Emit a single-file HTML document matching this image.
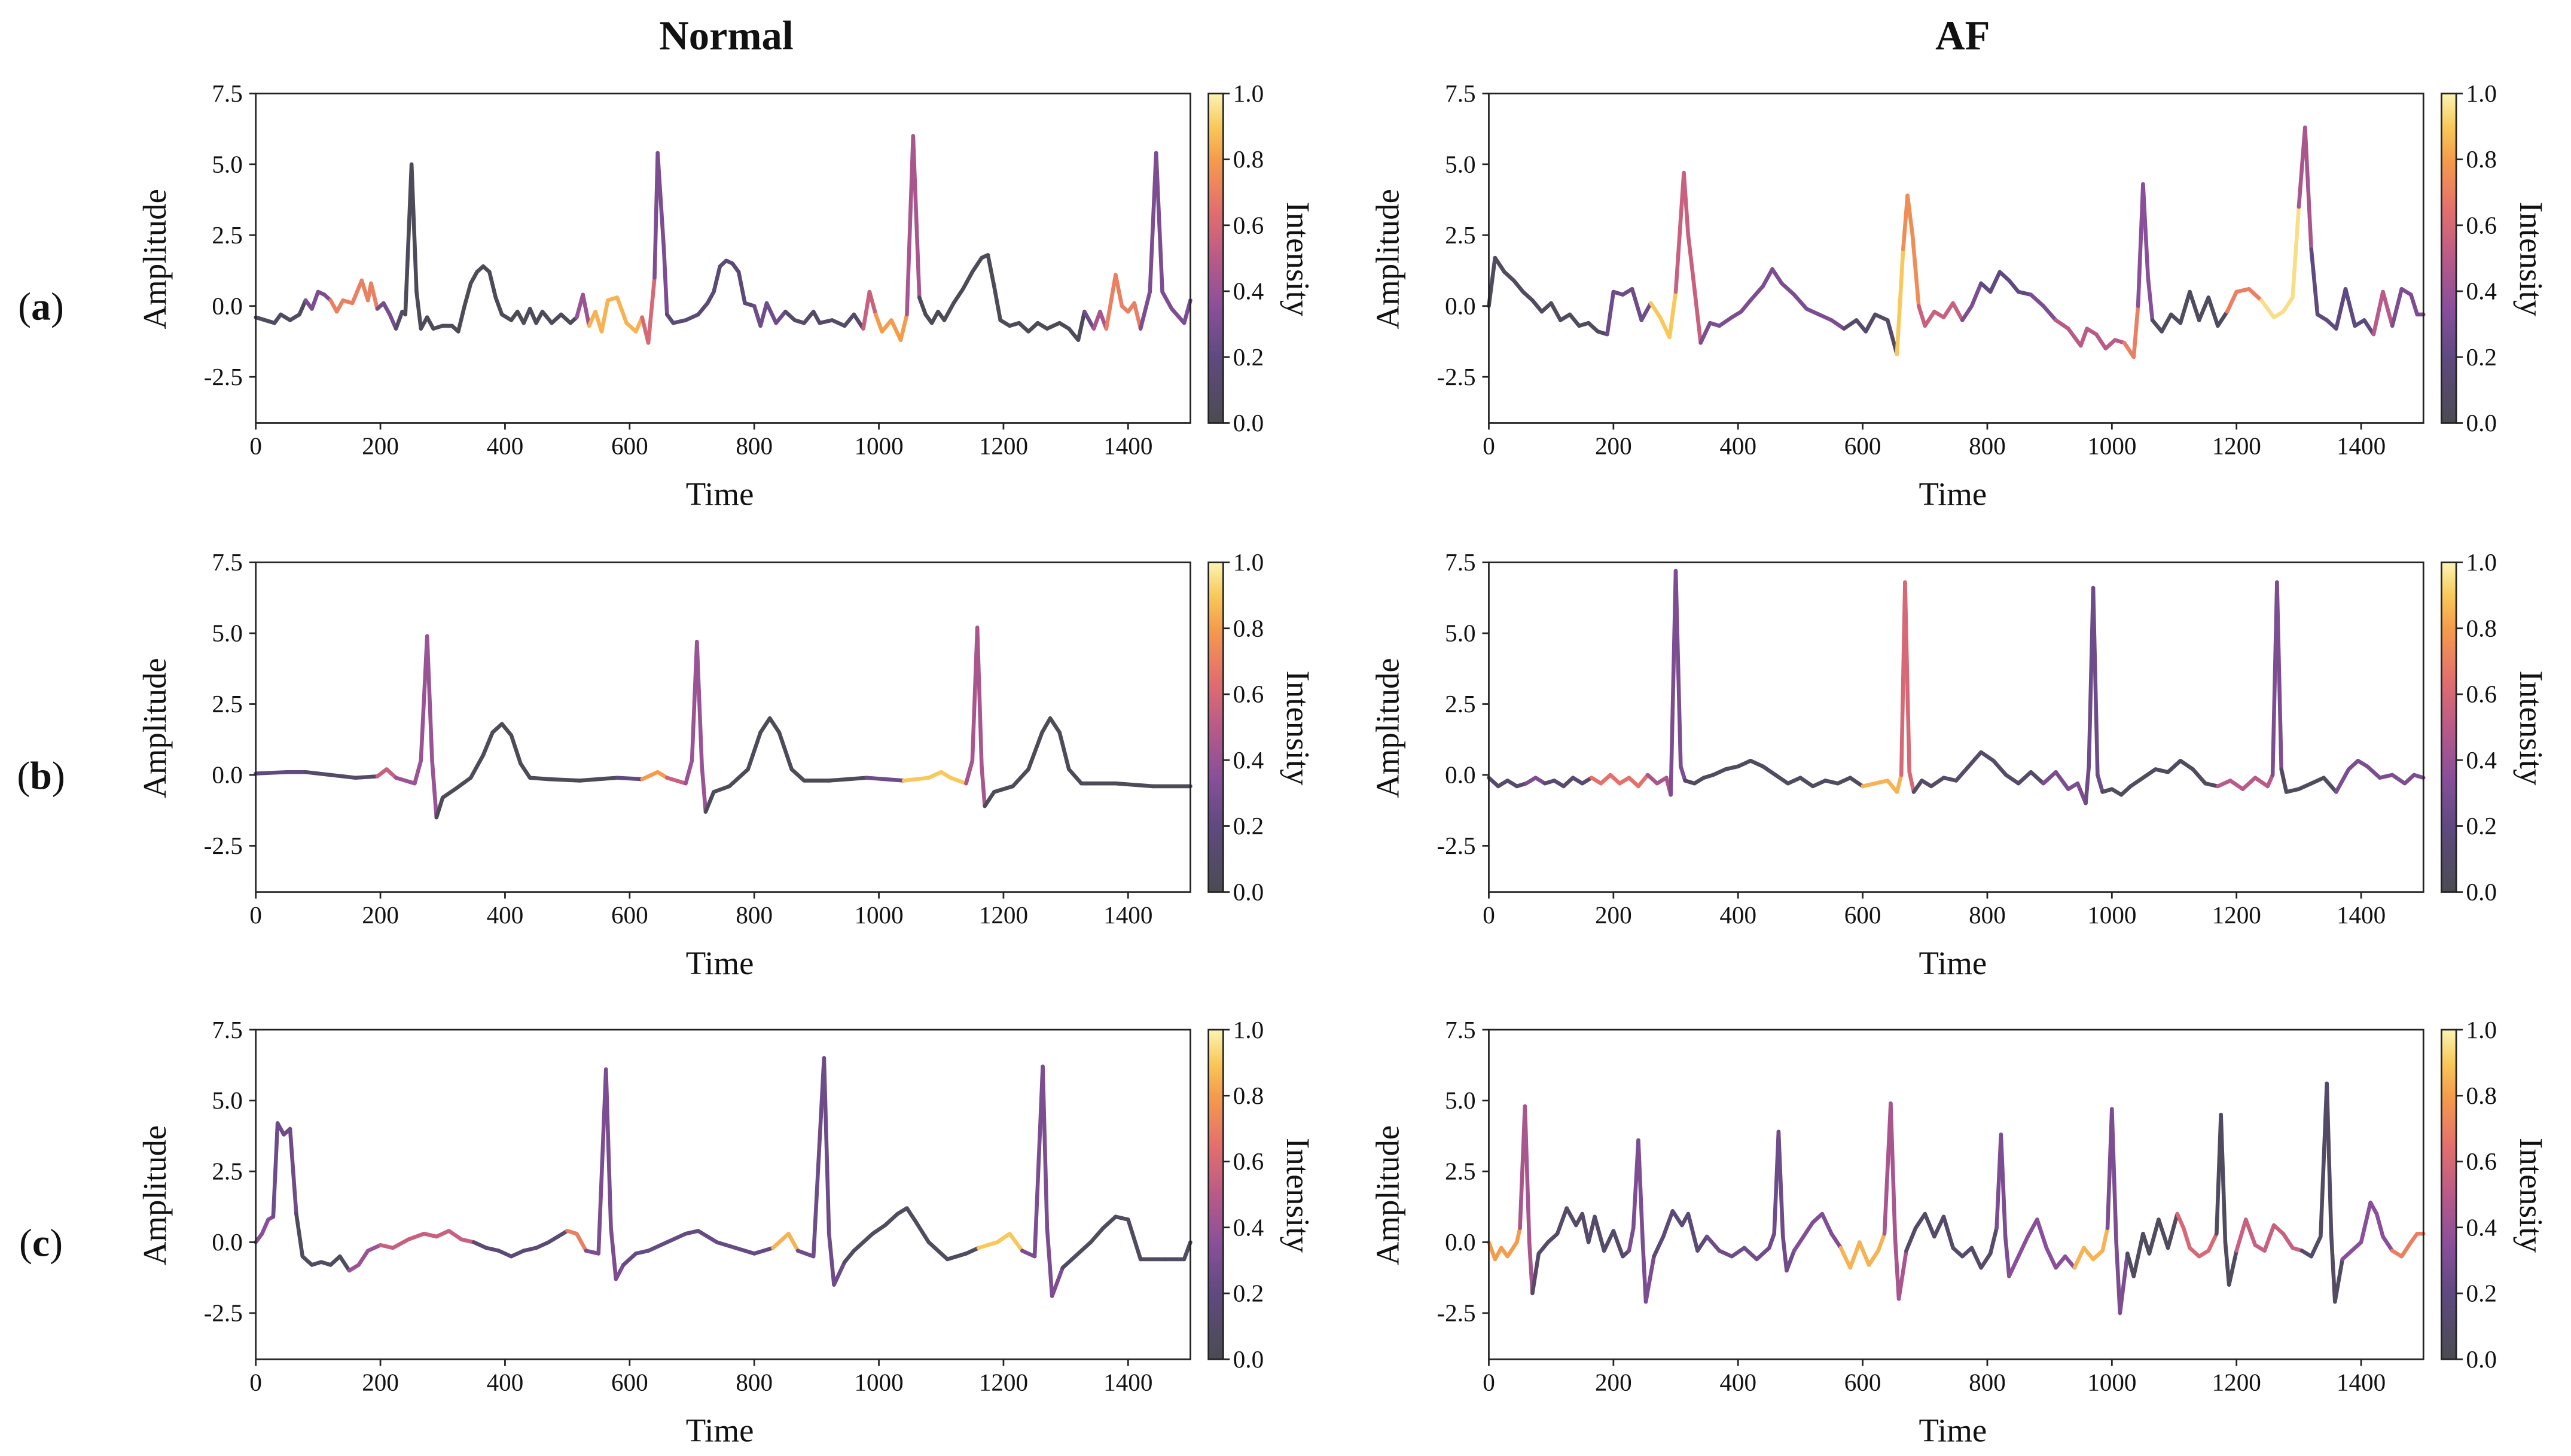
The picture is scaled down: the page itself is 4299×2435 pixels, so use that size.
<!DOCTYPE html>
<html><head><meta charset="utf-8">
<style>
html,body{margin:0;padding:0;background:#fff;}
svg{display:block;}
text{font-family:"Liberation Serif",serif;fill:#111;}
</style></head>
<body>
<svg id="fig" width="4299" height="2435" viewBox="0 0 1568 888" preserveAspectRatio="none" xmlns="http://www.w3.org/2000/svg">
<defs>
<linearGradient id="cbgrad" x1="0" y1="1" x2="0" y2="0">
<stop offset="0" stop-color="#4b4b52"/>
<stop offset="0.2" stop-color="#5f4a80"/>
<stop offset="0.35" stop-color="#8a4f9a"/>
<stop offset="0.5" stop-color="#b95a88"/>
<stop offset="0.65" stop-color="#e4706c"/>
<stop offset="0.8" stop-color="#f59c4c"/>
<stop offset="0.9" stop-color="#f8c95a"/>
<stop offset="1" stop-color="#fbf4b4"/>
</linearGradient>
</defs>
<text x="443" y="30" font-size="25" font-weight="bold" text-anchor="middle">Normal</text>
<text x="1197" y="30" font-size="25" font-weight="bold" text-anchor="middle">AF</text>
<text x="25" y="195" font-size="24" text-anchor="middle">(<tspan font-weight="bold">a</tspan>)</text>
<text x="25" y="481" font-size="24" text-anchor="middle">(<tspan font-weight="bold">b</tspan>)</text>
<text x="25" y="766" font-size="24" text-anchor="middle">(<tspan font-weight="bold">c</tspan>)</text>
</svg>
<script>
// ---- data ----
const xTicks = [0,200,400,600,800,1000,1200,1400];
const yTicks = [7.5,5.0,2.5,0.0,-2.5];
const cbTicks = [0.0,0.2,0.4,0.6,0.8,1.0];

const naT = [0,15,30,40,55,70,80,90,100,110,120,130,140,155,170,180,185,195,205,215,225,235,240,250,258,265,275,285,300,315,325,335,345,355,365,375,385,395,410,420,430,440,450,460,475,490,505,515,525,535,545,555,565,580,595,610,620,630,640,645,655,660,670,690,710,725,735,745,755,765,775,785,800,810,820,835,850,865,880,895,905,925,945,960,975,985,995,1005,1020,1035,1045,1055,1065,1075,1085,1095,1105,1120,1135,1150,1165,1175,1185,1195,1210,1225,1240,1255,1270,1290,1305,1320,1330,1345,1355,1365,1380,1390,1400,1410,1420,1435,1445,1455,1470,1490,1500];
const naV = [-0.4,-0.5,-0.6,-0.3,-0.5,-0.3,0.2,-0.1,0.5,0.4,0.2,-0.2,0.2,0.1,0.9,0.2,0.8,-0.1,0.1,-0.3,-0.8,-0.2,-0.3,5.0,0.5,-0.8,-0.4,-0.8,-0.7,-0.7,-0.9,0.0,0.8,1.2,1.4,1.2,0.3,-0.3,-0.5,-0.2,-0.6,-0.1,-0.6,-0.2,-0.6,-0.3,-0.6,-0.4,0.4,-0.7,-0.2,-0.9,0.2,0.3,-0.6,-0.9,-0.4,-1.3,1.0,5.4,2.0,-0.3,-0.6,-0.5,-0.3,0.1,0.5,1.4,1.6,1.5,1.2,0.1,0.0,-0.7,0.1,-0.6,-0.2,-0.5,-0.6,-0.2,-0.6,-0.5,-0.7,-0.3,-0.8,0.5,-0.3,-0.9,-0.5,-1.2,-0.3,6.0,0.3,-0.3,-0.6,-0.2,-0.5,0.1,0.6,1.2,1.7,1.8,0.7,-0.5,-0.7,-0.6,-0.9,-0.6,-0.8,-0.6,-0.8,-1.2,-0.2,-0.8,-0.2,-0.8,1.1,0.0,-0.2,0.1,-0.8,0.5,5.4,0.5,-0.1,-0.6,0.2];
const naIT = [0,80,125,195,222,245,520,535,625,640,660,800,845,980,992,1045,1062,1330,1350,1362,1418];
const naIV = [0.05,0.3,0.7,0.28,0.1,0.02,0.4,0.85,0.6,0.3,0.15,0.25,0.1,0.55,0.8,0.45,0.03,0.25,0.45,0.7,0.3];

const nbT = [0,50,80,120,160,195,210,225,255,265,275,283,290,300,320,345,365,380,395,410,425,440,470,520,580,620,645,660,690,700,708,716,722,735,760,790,810,825,840,860,880,920,980,1040,1080,1100,1115,1140,1150,1158,1165,1170,1185,1215,1240,1262,1275,1290,1305,1325,1380,1440,1500];
const nbV = [0.05,0.1,0.1,0.0,-0.1,-0.05,0.2,-0.1,-0.3,0.5,4.9,0.5,-1.5,-0.8,-0.5,-0.1,0.7,1.5,1.8,1.4,0.4,-0.1,-0.15,-0.2,-0.1,-0.15,0.1,-0.1,-0.3,0.5,4.7,0.3,-1.3,-0.6,-0.4,0.2,1.5,2.0,1.5,0.2,-0.2,-0.2,-0.1,-0.2,-0.1,0.1,-0.1,-0.3,0.5,5.2,0.3,-1.1,-0.6,-0.4,0.2,1.5,2.0,1.5,0.2,-0.3,-0.3,-0.4,-0.4];
const nbIT = [0,100,190,240,288,560,620,660,690,720,960,1060,1130,1168];
const nbIV = [0.2,0.1,0.55,0.4,0.03,0.2,0.8,0.55,0.4,0.03,0.25,0.9,0.45,0.03];

const ncT = [0,10,20,28,35,45,55,65,75,90,105,120,135,150,165,180,200,220,245,270,290,310,330,350,370,390,410,430,450,470,500,515,530,550,562,570,578,590,610,630,660,690,710,740,770,800,830,855,870,895,912,920,928,945,960,990,1010,1030,1045,1060,1080,1110,1140,1160,1190,1210,1230,1250,1263,1270,1278,1295,1315,1340,1360,1380,1400,1420,1460,1490,1500];
const ncV = [0.0,0.3,0.8,0.9,4.2,3.8,4.0,1.0,-0.5,-0.8,-0.7,-0.8,-0.5,-1.0,-0.8,-0.3,-0.1,-0.2,0.1,0.3,0.2,0.4,0.1,0.0,-0.2,-0.3,-0.5,-0.3,-0.2,0.0,0.4,0.3,-0.3,-0.4,6.1,0.5,-1.3,-0.8,-0.4,-0.3,0.0,0.3,0.4,0.0,-0.2,-0.4,-0.2,0.3,-0.3,-0.5,6.5,0.3,-1.5,-0.7,-0.3,0.3,0.6,1.0,1.2,0.7,0.0,-0.6,-0.4,-0.2,0.0,0.3,-0.3,-0.5,6.2,0.5,-1.9,-0.9,-0.5,0.0,0.5,0.9,0.8,-0.6,-0.6,-0.6,0.0];
const ncIT = [0,30,65,145,195,360,490,540,585,820,880,940,1160,1240,1290];
const ncIV = [0.35,0.25,0.05,0.4,0.55,0.15,0.7,0.3,0.22,0.85,0.25,0.05,0.9,0.3,0.05];

const faT = [0,10,25,40,55,70,85,100,115,130,145,160,175,190,200,215,230,245,260,275,290,300,313,320,328,340,355,370,390,405,420,440,455,470,490,510,530,550,570,590,605,620,640,655,665,672,680,690,700,715,730,745,760,775,790,805,820,835,850,870,890,910,930,950,960,975,990,1005,1020,1035,1042,1050,1058,1065,1080,1095,1110,1125,1140,1155,1170,1185,1200,1220,1240,1260,1275,1290,1300,1310,1320,1330,1345,1360,1375,1390,1405,1420,1435,1450,1465,1480,1490,1500];
const faV = [0.0,1.7,1.2,0.9,0.5,0.2,-0.2,0.1,-0.5,-0.3,-0.7,-0.6,-0.9,-1.0,0.5,0.4,0.6,-0.5,0.1,-0.4,-1.1,0.5,4.7,2.5,1.0,-1.3,-0.6,-0.7,-0.4,-0.2,0.2,0.7,1.3,0.8,0.4,-0.1,-0.3,-0.5,-0.8,-0.5,-0.9,-0.3,-0.5,-1.7,2.0,3.9,2.5,0.0,-0.7,-0.2,-0.4,0.1,-0.5,0.0,0.8,0.5,1.2,0.9,0.5,0.4,0.0,-0.5,-0.8,-1.4,-0.8,-1.0,-1.5,-1.2,-1.3,-1.8,0.0,4.3,1.0,-0.5,-0.9,-0.3,-0.6,0.5,-0.5,0.3,-0.7,-0.2,0.5,0.6,0.2,-0.4,-0.2,0.3,3.5,6.3,2.0,-0.3,-0.5,-0.8,0.6,-0.7,-0.5,-1.0,0.5,-0.7,0.6,0.4,-0.3,-0.3];
const faIT = [0,195,255,296,335,580,650,662,688,755,785,865,905,1015,1040,1062,1180,1232,1296,1325,1415,1455];
const faIV = [0.05,0.25,0.9,0.55,0.3,0.1,0.9,0.75,0.55,0.3,0.2,0.3,0.5,0.7,0.35,0.05,0.7,0.95,0.45,0.2,0.5,0.3];

const fbT = [0,15,30,45,60,75,90,105,120,135,150,165,180,195,210,225,240,255,270,285,292,300,308,315,330,345,360,380,400,420,440,460,480,500,520,540,560,580,600,620,640,655,662,668,675,682,695,710,730,750,770,790,810,830,850,870,890,910,930,945,958,963,970,977,985,1000,1015,1030,1050,1070,1090,1110,1130,1150,1170,1190,1210,1230,1250,1258,1265,1272,1280,1300,1320,1340,1360,1380,1395,1410,1430,1450,1470,1485,1500];
const fbV = [-0.1,-0.4,-0.2,-0.4,-0.3,-0.1,-0.3,-0.2,-0.4,-0.1,-0.3,-0.1,-0.3,0.0,-0.3,-0.1,-0.4,0.0,-0.3,-0.1,-0.7,7.2,0.3,-0.2,-0.3,-0.1,0.0,0.2,0.3,0.5,0.3,0.0,-0.3,-0.1,-0.4,-0.2,-0.3,-0.1,-0.4,-0.3,-0.2,-0.6,0.0,6.8,0.1,-0.6,-0.2,-0.4,-0.1,-0.2,0.3,0.8,0.5,0.0,-0.3,0.1,-0.3,0.1,-0.5,-0.3,-1.0,0.3,6.6,0.0,-0.6,-0.5,-0.7,-0.4,-0.1,0.2,0.1,0.5,0.2,-0.3,-0.4,-0.2,-0.5,-0.1,-0.4,0.0,6.8,0.2,-0.6,-0.5,-0.3,-0.1,-0.6,0.2,0.5,0.3,-0.1,0.0,-0.3,0.0,-0.1];
const fbIT = [0,55,95,170,262,290,320,595,660,680,900,955,990,1165,1255,1276,1370];
const fbIV = [0.1,0.3,0.12,0.65,0.45,0.3,0.05,0.85,0.6,0.1,0.3,0.25,0.05,0.5,0.3,0.05,0.3];

const fcT = [0,10,20,30,45,50,58,65,70,80,95,110,125,140,150,160,170,185,200,215,225,232,240,247,252,265,280,295,310,320,335,350,370,390,410,430,450,458,465,472,478,490,505,520,535,550,565,580,595,610,625,635,645,652,658,670,685,700,715,730,745,760,775,790,805,815,822,829,835,850,865,880,895,910,925,940,955,970,985,993,1000,1007,1013,1025,1035,1050,1060,1075,1090,1105,1115,1125,1140,1155,1168,1175,1182,1188,1200,1215,1230,1245,1260,1275,1290,1305,1320,1335,1345,1352,1358,1370,1385,1400,1415,1425,1435,1450,1465,1480,1490,1500];
const fcV = [0.0,-0.6,-0.2,-0.5,0.0,0.5,4.8,0.0,-1.8,-0.4,0.0,0.3,1.2,0.6,1.0,0.0,0.9,-0.3,0.4,-0.5,-0.3,0.5,3.6,0.0,-2.1,-0.5,0.2,1.1,0.6,1.0,-0.3,0.2,-0.3,-0.5,-0.2,-0.6,-0.2,0.3,3.9,0.2,-1.0,-0.3,0.2,0.7,1.0,0.3,-0.2,-0.9,0.0,-0.8,-0.3,0.3,4.9,0.2,-2.0,-0.3,0.5,1.0,0.2,0.9,-0.2,-0.5,-0.2,-0.9,-0.4,0.5,3.8,0.2,-1.2,-0.5,0.2,0.8,-0.2,-0.9,-0.5,-0.9,-0.2,-0.6,-0.3,0.5,4.7,0.0,-2.5,-0.4,-1.2,0.3,-0.4,0.8,-0.2,1.0,0.5,-0.2,-0.5,-0.3,0.3,4.5,0.0,-1.5,-0.3,0.8,-0.1,-0.3,0.6,0.3,-0.2,-0.3,-0.5,0.2,5.6,0.3,-2.1,-0.6,-0.3,0.0,1.4,1.0,0.2,-0.3,-0.5,0.0,0.3,0.3];
const fcIT = [0,48,75,228,260,350,455,485,562,632,665,812,842,945,990,1020,1110,1162,1195,1305,1335,1365,1445];
const fcIV = [0.8,0.45,0.1,0.3,0.15,0.25,0.25,0.32,0.85,0.45,0.1,0.3,0.35,0.85,0.3,0.05,0.6,0.05,0.55,0.1,0.08,0.35,0.7];

// ---- layout ----
const svg = document.getElementById('fig');
const NS = 'http://www.w3.org/2000/svg';
const AX_W = 570, AX_H = 201, YMAX = 7.5, YMIN = -4.13, XMAX = 1500;
const cmapStops = [[0,[75,75,82]],[0.2,[95,74,128]],[0.35,[138,79,154]],[0.5,[185,90,136]],[0.65,[228,112,108]],[0.8,[245,156,76]],[0.9,[248,201,90]],[1,[251,244,180]]];
function cmap(v){
  v=Math.max(0,Math.min(1,v));
  for(let k=1;k<cmapStops.length;k++){
    if(v<=cmapStops[k][0]){
      const a=cmapStops[k-1],b=cmapStops[k];const f=(v-a[0])/(b[0]-a[0]);
      const c=a[1].map((x,j)=>Math.round(x+(b[1][j]-x)*f));
      return 'rgb('+c.join(',')+')';
    }
  }
  return 'rgb(251,244,180)';
}
function el(tag, attrs, parent){
  const e=document.createElementNS(NS,tag);
  for(const k in attrs) e.setAttribute(k,attrs[k]);
  (parent||svg).appendChild(e);return e;
}
function intensityAt(t, iT, iV){
  let v=iV[0];
  for(let k=0;k<iT.length;k++){ if(t>=iT[k]) v=iV[k]; }
  return v;
}
function panel(name, x0, y0, T, V, iT, iV){
  const g=el('g',{});
  
  
  const sx=t=>x0+t/XMAX*AX_W;
  const sy=v=>y0+(YMAX-v)/(YMAX-YMIN)*AX_H;
  const sg=el('g',{},g);
  
  
  for(let k=0;k<T.length-1;k++){
    const tm=(T[k]+T[k+1])/2;
    const seg=el('line',{x1:sx(T[k]),y1:sy(V[k]),x2:sx(T[k+1]),y2:sy(V[k+1]),stroke:cmap(intensityAt(tm,iT,iV)),'stroke-width':2.4,'stroke-linecap':'round'},sg);
    
    
  }
  const fr=el('rect',{x:x0,y:y0,width:AX_W,height:AX_H,fill:'none',stroke:'#222','stroke-width':1},g);
  
  
  xTicks.forEach(t=>{
    el('line',{x1:sx(t),y1:y0+AX_H,x2:sx(t),y2:y0+AX_H+4,stroke:'#222','stroke-width':1},g);
    const tx=el('text',{x:sx(t),y:y0+AX_H+19,'font-size':15,'text-anchor':'middle'},g);
    tx.textContent=String(t);
    
    
  });
  yTicks.forEach(v=>{
    el('line',{x1:x0-4,y1:sy(v),x2:x0,y2:sy(v),stroke:'#222','stroke-width':1},g);
    const tx=el('text',{x:x0-8,y:sy(v)+5,'font-size':15,'text-anchor':'end'},g);
    tx.textContent=v.toFixed(1);
    
    
  });
  const xl=el('text',{x:x0+AX_W/2-2,y:y0+AX_H+50,'font-size':20,'text-anchor':'middle'},g);
  xl.textContent='Time';
  
  
  const yl=el('text',{x:0,y:0,'font-size':20,'text-anchor':'middle',transform:'translate('+(x0-55)+','+(y0+101)+') rotate(-90)'},g);
  yl.textContent='Amplitude';
  
  
  const cx=x0+AX_W+11;
  const cb=el('rect',{x:cx,y:y0,width:9,height:AX_H,fill:'url(#cbgrad)',stroke:'#222','stroke-width':1},g);
  
  
  cbTicks.forEach(v=>{
    const y=y0+AX_H-v*AX_H;
    el('line',{x1:cx+9,y1:y,x2:cx+13,y2:y,stroke:'#222','stroke-width':1},g);
    const tx=el('text',{x:cx+15,y:y+5,'font-size':15},g);
    tx.textContent=v.toFixed(1);
    
    
  });
  const cl=el('text',{x:0,y:0,'font-size':20,'text-anchor':'middle',transform:'translate('+(cx+48)+','+(y0+101)+') rotate(90)'},g);
  cl.textContent='Intensity';
  
  
}
panel('normal-a',156,57,naT,naV,naIT,naIV);
panel('normal-b',156,343,nbT,nbV,nbIT,nbIV);
panel('normal-c',156,628,ncT,ncV,ncIT,ncIV);
panel('af-a',908,57,faT,faV,faIT,faIV);
panel('af-b',908,343,fbT,fbV,fbIT,fbIV);
panel('af-c',908,628,fcT,fcV,fcIT,fcIV);
</script>
</body></html>
